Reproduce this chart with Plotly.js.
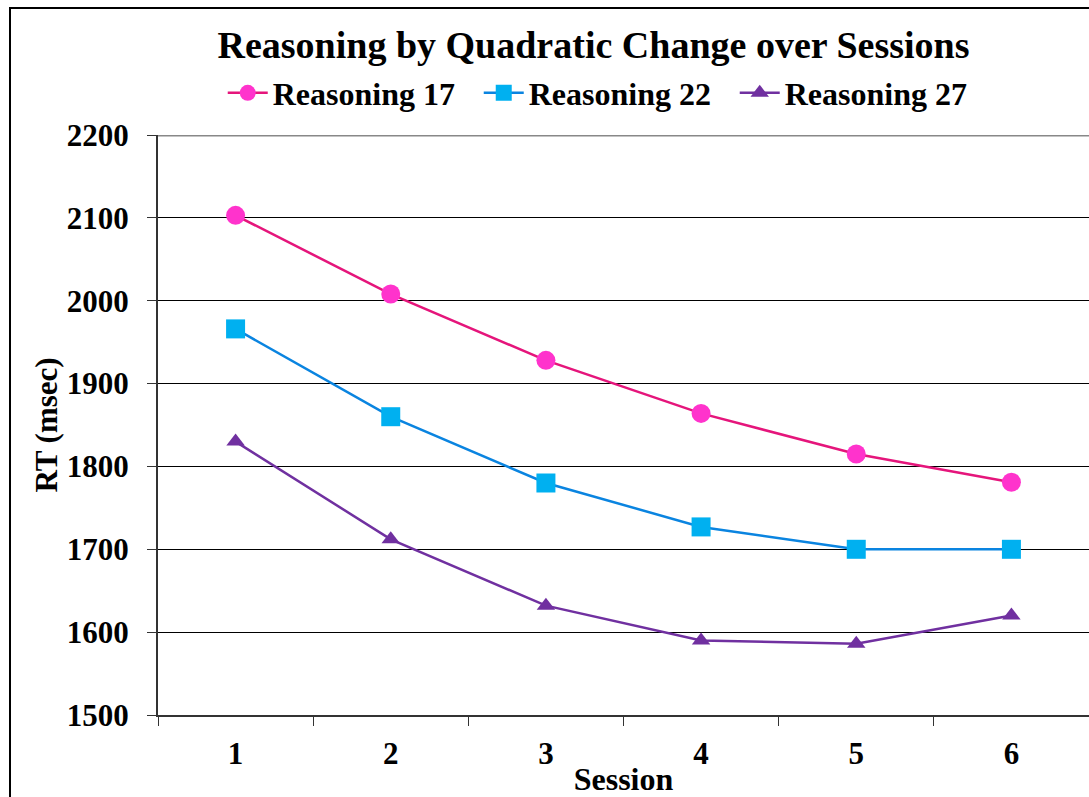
<!DOCTYPE html>
<html>
<head>
<meta charset="utf-8">
<script src="https://cdn.plot.ly/plotly-3.0.1.min.js"></script>
<style>
  html, body { margin: 0; padding: 0; background: #fff; overflow: hidden; }
  #wrap { position: relative; width: 1089px; height: 797px; }
  #frame { position: absolute; left: 9px; top: 7px; width: 1100px; height: 820px;
           border: 2px solid #000; box-sizing: border-box; pointer-events: none; z-index: 5; }
  #chart { position: absolute; left: 0; top: 0; width: 1089px; height: 797px; }
</style>
</head>
<body>
<div id="wrap">
  <div id="chart"></div>
  <div id="frame"></div>
</div>
<script>
// Sessions on the x axis
const sessions = ["1", "2", "3", "4", "5", "6"];

// Mean reaction time (msec) per session for each reasoning condition
const reasoning17 = [2103, 2008, 1928, 1864, 1815, 1781];
const reasoning22 = [1966, 1860, 1780, 1727, 1700, 1700];
const reasoning27 = [1830, 1712, 1632, 1590, 1586, 1620];

const yTicks = [1500, 1600, 1700, 1800, 1900, 2000, 2100, 2200];

const serif = "Liberation Serif, Times New Roman, serif";

const traces = [
  {
    name: "Reasoning 17", x: sessions, y: reasoning17, type: "scatter", mode: "lines+markers",
    line: { color: "#E5157B", width: 2.5 },
    marker: { symbol: "circle", size: 19, color: "#FF33CC" }
  },
  {
    name: "Reasoning 22", x: sessions, y: reasoning22, type: "scatter", mode: "lines+markers",
    line: { color: "#0A84E0", width: 2.5 },
    marker: { symbol: "square", size: 19, color: "#00B0F0" }
  },
  {
    name: "Reasoning 27", x: sessions, y: reasoning27, type: "scatter", mode: "lines+markers",
    line: { color: "#7030A0", width: 2.5 },
    marker: { symbol: "triangle-up", size: 16, color: "#7030A0" }
  }
];

const layout = {
  width: 1089, height: 797,
  margin: { l: 158, r: 0, t: 135, b: 82 },
  paper_bgcolor: "#fff", plot_bgcolor: "#fff",
  font: { family: serif, color: "#000", size: 31, weight: 700 },
  title: {
    text: "Reasoning by Quadratic Change over Sessions",
    font: { family: serif, size: 38, weight: 700, color: "#000" },
    xref: "container", x: 0.545, xanchor: "center",
    yref: "container", y: 1 - 45 / 797, yanchor: "middle"
  },
  showlegend: true,
  legend: {
    orientation: "h", xref: "paper", x: 0.482, xanchor: "center",
    y: 1.0724, yanchor: "middle",
    font: { family: serif, size: 32, weight: 700, color: "#000" },
    bgcolor: "rgba(0,0,0,0)", itemwidth: 40, tracegroupgap: 0,
    entrywidth: 201, entrywidthmode: "pixels"
  },
  xaxis: {
    type: "category", range: [-0.5, 5.5],
    tickson: "boundaries", ticks: "outside", ticklen: 9, tickwidth: 1, tickcolor: "#333",
    showline: true, linecolor: "#333", linewidth: 2,
    showgrid: false, zeroline: false,
    tickfont: { family: serif, size: 31, weight: 700, color: "#000" },
    ticklabelstandoff: 10,
    title: { text: "Session", font: { family: serif, size: 32, weight: 700, color: "#000" }, standoff: 0 }
  },
  yaxis: {
    range: [1500, 2200], tickvals: yTicks, ticktext: yTicks.map(String),
    ticks: "outside", ticklen: 9, tickwidth: 1, tickcolor: "#333",
    showline: true, linecolor: "#333", linewidth: 2,
    showgrid: true, gridcolor: "#000", gridwidth: 1, zeroline: false,
    tickfont: { family: serif, size: 31, weight: 700, color: "#000" },
    ticklabelstandoff: 12,
    title: { text: "RT (msec)", font: { family: serif, size: 31, weight: 700, color: "#000" }, standoff: 0 }
  },
  shapes: [
    { type: "line", xref: "paper", yref: "y", x0: 0, x1: 1, y0: 2200, y1: 2200,
      line: { color: "#888", width: 3 }, layer: "above" }
  ]
};

Plotly.newPlot("chart", traces, layout, { displayModeBar: false, staticPlot: true });
</script>
</body>
</html>
